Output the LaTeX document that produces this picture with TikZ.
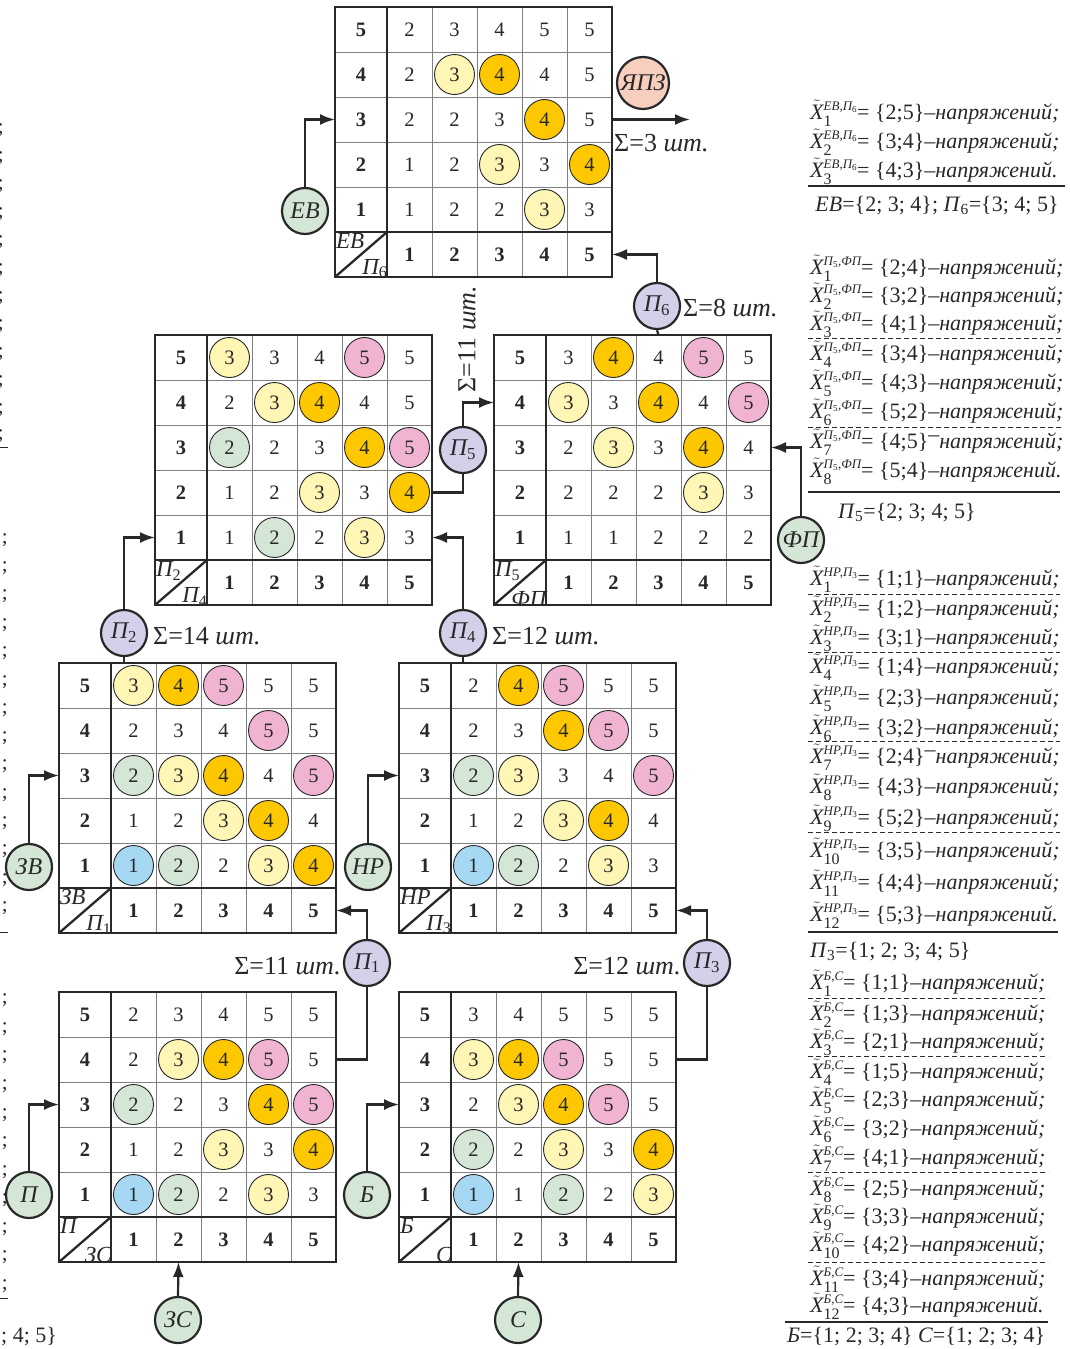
\documentclass[tikz,border=0pt]{standalone}
\usepackage{fontspec}
\setmainfont{Liberation Serif}
\usetikzlibrary{arrows.meta}
\definecolor{cy}{RGB}{254,246,180}
\definecolor{co}{RGB}{254,200,0}
\definecolor{cp}{RGB}{240,180,210}
\definecolor{cg}{RGB}{212,230,214}
\definecolor{cb}{RGB}{166,216,243}
\definecolor{cu}{RGB}{213,208,234}
\definecolor{cs}{RGB}{248,206,190}
\definecolor{ink}{RGB}{40,40,40}
\tikzset{
 gthin/.style={line width=0.8pt, draw=black!50},
 gthick/.style={line width=2.3pt, draw=ink},
 cellnum/.style={inner sep=0pt, text=ink, font=\fontsize{20.5}{20.5}\selectfont},
 headnum/.style={inner sep=0pt, text=ink, font=\fontsize{20.5}{20.5}\selectfont\bfseries},
 ccirc/.style={circle, draw=ink, line width=0.9pt, minimum size=40pt},
 ck-n/.style={},
 ck-y/.style={ccirc, fill=cy},
 ck-o/.style={ccirc, fill=co},
 ck-p/.style={ccirc, fill=cp},
 ck-g/.style={ccirc, fill=cg},
 ck-b/.style={ccirc, fill=cb},
 cornerlab/.style={inner sep=0.3pt, text=ink, font=\fontsize{23}{23}\selectfont\itshape},
 lab/.style={circle, draw=ink, line width=2.2pt, minimum size=46pt, inner sep=0pt, text=ink, font=\fontsize{24}{24}\selectfont\itshape},
 labg/.style={lab, fill=cg},
 labu/.style={lab, fill=cu},
 conn/.style={line width=2.2pt, draw=ink},
 arr/.style={conn, -{Latex[length=15pt,width=11pt]}},
 sig/.style={inner sep=0pt, text=ink, font=\fontsize{26}{26}\selectfont},
 eq/.style={inner sep=0pt, anchor=base west, text=ink, font=\fontsize{22}{22}\selectfont},
 dashrule/.style={line width=0.8pt, draw=ink, dash pattern=on 5pt off 3pt},
 solidrule/.style={line width=1.3pt, draw=ink},
 frag/.style={inner sep=0pt, text=ink, font=\fontsize{21}{21}\selectfont},
}
\newcommand\drawmat[6]{%
\begin{scope}[shift={(#2,#3)}]
 \foreach \r in {0,...,5}{
   \coordinate (#1-L\r) at (0,{45*(5-\r)+22.5});
   \coordinate (#1-R\r) at (277,{45*(5-\r)+22.5});
 }
 \foreach \c in {1,...,5}{
   \coordinate (#1-T\c) at ({29.5+45*\c},0);
   \coordinate (#1-B\c) at ({29.5+45*\c},270);
 }
 \fill[white] (0,0) rectangle (277,270);
 \foreach \k in {1,...,4} \draw[gthin] ({52+45*\k},0) -- ({52+45*\k},270);
 \foreach \k in {1,...,4} \draw[gthin] (0,{45*\k}) -- (277,{45*\k});
 \foreach \row [count=\i] in {#6} {
   \foreach \v/\k [count=\j] in \row {
     \node[cellnum, ck-\k] (#1-\i-\j) at ({29.5+45*\j},{45*\i-22.5}) {\v};
   }
 }
 \foreach \r [count=\i] in {5,4,3,2,1}
   \node[headnum] (#1-h\r) at (26,{45*\i-22.5}) {\r};
 \foreach \c in {1,...,5}
   \node[headnum] (#1-v\c) at ({29.5+45*\c},247.5) {\c};
 \draw[gthick] (0,225) -- (277,225);
 \draw[gthick] (52,0) -- (52,270);
 \draw[gthick] (0,270) -- (52,225);
 \draw[gthick] (0,0) rectangle (277,270);
 \node[cornerlab, anchor=north west] (#1-cu) at (0.5,226) {#4};
 \node[cornerlab, anchor=south east] (#1-cl) at (53,271.5) {#5};
\end{scope}}
\newcommand\sub[1]{\textsubscript{\upshape #1}}
\newlength\xtw
\newsavebox\xtsup
\newsavebox\xtsub
\newcommand\Xt[2]{%
 \sbox\xtsup{\fontsize{13}{13}\selectfont\itshape #2}%
 \sbox\xtsub{\fontsize{16}{16}\selectfont #1}%
 \setlength\xtw{\wd\xtsup}\ifdim\wd\xtsub>\xtw \setlength\xtw{\wd\xtsub}\fi
 $\tilde{\mbox{\itshape X}}$\rlap{\raisebox{8.5pt}{\usebox\xtsup}}\rlap{\raisebox{-7pt}{\usebox\xtsub}}\hspace{\xtw}}
\newcommand\nap{–\textit{напряжений;}}
\newcommand\napd{–\textit{напряжений.}}
\newcommand\napr{\raisebox{.6ex}{–}\textit{напряжений;}}
\newcommand\eqline[6]{\node[eq] (#1) at (810,#2) {\Xt{#3}{#4}= \{#5\}#6};}
\begin{document}
\begin{tikzpicture}[x=1pt,y=-1pt]
\useasboundingbox[fill=white] (0,0) rectangle (1070,1349);

% ---------------- matrices
\drawmat{M1}{335}{7}{ЕВ}{П\sub{6}}{%
{2/n,3/n,4/n,5/n,5/n},{2/n,3/y,4/o,4/n,5/n},{2/n,2/n,3/n,4/o,5/n},{1/n,2/n,3/y,3/n,4/o},{1/n,2/n,2/n,3/y,3/n}}
\drawmat{M2}{155}{335}{П\sub{2}}{П\sub{4}}{%
{3/y,3/n,4/n,5/p,5/n},{2/n,3/y,4/o,4/n,5/n},{2/g,2/n,3/n,4/o,5/p},{1/n,2/n,3/y,3/n,4/o},{1/n,2/g,2/n,3/y,3/n}}
\drawmat{M3}{494}{335}{П\sub{5}}{ФП}{%
{3/n,4/o,4/n,5/p,5/n},{3/y,3/n,4/o,4/n,5/p},{2/n,3/y,3/n,4/o,4/n},{2/n,2/n,2/n,3/y,3/n},{1/n,1/n,2/n,2/n,2/n}}
\drawmat{M4}{59}{663}{ЗВ}{П\sub{1}}{%
{3/y,4/o,5/p,5/n,5/n},{2/n,3/n,4/n,5/p,5/n},{2/g,3/y,4/o,4/n,5/p},{1/n,2/n,3/y,4/o,4/n},{1/b,2/g,2/n,3/y,4/o}}
\drawmat{M5}{399}{663}{НР}{П\sub{3}}{%
{2/n,4/o,5/p,5/n,5/n},{2/n,3/n,4/o,5/p,5/n},{2/g,3/y,3/n,4/n,5/p},{1/n,2/n,3/y,4/o,4/n},{1/b,2/g,2/n,3/y,3/n}}
\drawmat{M6}{59}{992}{П}{ЗС}{%
{2/n,3/n,4/n,5/n,5/n},{2/n,3/y,4/o,5/p,5/n},{2/g,2/n,3/n,4/o,5/p},{1/n,2/n,3/y,3/n,4/o},{1/b,2/g,2/n,3/y,3/n}}
\drawmat{M7}{399}{992}{Б}{С}{%
{3/n,4/n,5/n,5/n,5/n},{3/y,4/o,5/p,5/n,5/n},{2/n,3/y,4/o,5/p,5/n},{2/g,2/n,3/y,3/n,4/o},{1/b,1/n,2/g,2/n,3/y}}

% ---------------- label circles
\node[labg] (EB) at (305,211) {ЕВ};
\node[lab, fill=cs, minimum size=52pt] (YPZ) at (643,83) {ЯПЗ};
\node[labu] (P6) at (657,306) {П\sub{6}};
\node[labu] (P5) at (463,450) {П\sub{5}};
\node[labg] (FP) at (801,540) {ФП};
\node[labu] (P2) at (124,633) {П\sub{2}};
\node[labu] (P4) at (463,633) {П\sub{4}};
\node[labg] (ZV) at (29,867) {ЗВ};
\node[labg] (NR) at (368,867) {НР};
\node[labu] (P1) at (367,963) {П\sub{1}};
\node[labu] (P3) at (707,963) {П\sub{3}};
\node[labg] (P) at (29,1195) {П};
\node[labg] (B) at (367,1195) {Б};
\node[labg] (ZS) at (178,1320) {ЗС};
\node[labg] (S) at (518,1320) {С};
\coordinate (out) at (690,119.5);

% ---------------- connectors
\draw[arr] (EB.north) |- (M1-L3);
\draw[arr] (M1-R3) -- (out);
\draw[arr] (P6.north) |- (M1-R0);
\draw[conn] (M3-T3) -- (P6.south);
\draw[arr] (P5.north) |- (M3-L4);
\draw[conn] (M2-R2) -| (P5.south);
\draw[arr] (FP.north) |- (M3-R3);
\draw[arr] (P2.north) |- (M2-L1);
\draw[conn] (P2.south) -- (P2.south |- M4-T1);
\draw[arr] (P4.north) |- (M2-R1);
\draw[conn] (P4.south) -- (P4.south |- M5-T1);
\draw[arr] (ZV.north) |- (M4-L3);
\draw[arr] (NR.north) |- (M5-L3);
\draw[arr] (P1.north) |- (M4-R0);
\draw[conn] (M6-R4) -| (P1.south);
\draw[arr] (P3.north) |- (M5-R0);
\draw[conn] (M7-R4) -| (P3.south);
\draw[arr] (P.north) |- (M6-L3);
\draw[arr] (B.north) |- (M7-L3);
\draw[arr] (ZS.north) -- (M6-B2);
\draw[arr] (S.north) -- (M7-B2);

% ---------------- sums
\node[sig, anchor=west] (s3) at (614,143) {Σ=3 \textit{шт.}};
\node[sig, anchor=west] (s8) at (683,308) {Σ=8 \textit{шт.}};
\node[sig, rotate=90] (s11v) at (467,339) {Σ=11 \textit{шт.}};
\node[sig, anchor=west] (s14) at (153,636) {Σ=14 \textit{шт.}};
\node[sig, anchor=west] (s12a) at (492,636) {Σ=12 \textit{шт.}};
\node[sig, anchor=east] (s11) at (341,966) {Σ=11 \textit{шт.}};
\node[sig, anchor=east] (s12b) at (681,966) {Σ=12 \textit{шт.}};

% ---------------- right text: block 1
\eqline{a1}{119}{1}{ЕВ,П\sub{6}}{2;5}{\nap}
\eqline{a2}{148}{2}{ЕВ,П\sub{6}}{3;4}{\nap}
\eqline{a3}{177}{3}{ЕВ,П\sub{6}}{4;3}{\napd}
\draw[solidrule] (808,186) -- (1065,186);
\node[eq, anchor=base] (a4) at (937,211) {\textit{ЕВ}=\{2; 3; 4\}; \textit{П}\sub{6}=\{3; 4; 5\}};
% block 2
\eqline{b1}{274}{1}{П\sub{5},ФП}{2;4}{\nap}
\eqline{b2}{302}{2}{П\sub{5},ФП}{3;2}{\nap}
\eqline{b3}{330}{3}{П\sub{5},ФП}{4;1}{\nap}
\draw[dashrule] (808,338) -- (1062,338);
\eqline{b4}{360}{4}{П\sub{5},ФП}{3;4}{\nap}
\eqline{b5}{389}{5}{П\sub{5},ФП}{4;3}{\nap}
\eqline{b6}{418}{6}{П\sub{5},ФП}{5;2}{\nap}
\draw[dashrule] (808,427) -- (1062,427);
\eqline{b7}{448}{7}{П\sub{5},ФП}{4;5}{\napr}
\eqline{b8}{477}{8}{П\sub{5},ФП}{5;4}{\napd}
\draw[solidrule] (808,492) -- (1060,492);
\node[eq] (b9) at (838,518) {\textit{П}\sub{5}=\{2; 3; 4; 5\}};
% block 3
\eqline{c1}{585}{1}{НР,П\sub{3}}{1;1}{\nap}
\draw[dashrule] (808,594) -- (1060,594);
\eqline{c2}{615}{2}{НР,П\sub{3}}{1;2}{\nap}
\eqline{c3}{644}{3}{НР,П\sub{3}}{3;1}{\nap}
\draw[dashrule] (808,652) -- (1060,652);
\eqline{c4}{673}{4}{НР,П\sub{3}}{1;4}{\nap}
\eqline{c5}{704}{5}{НР,П\sub{3}}{2;3}{\nap}
\eqline{c6}{734}{6}{НР,П\sub{3}}{3;2}{\nap}
\draw[dashrule] (808,741) -- (1060,741);
\eqline{c7}{763}{7}{НР,П\sub{3}}{2;4}{\napr}
\eqline{c8}{793}{8}{НР,П\sub{3}}{4;3}{\nap}
\eqline{c9}{824}{9}{НР,П\sub{3}}{5;2}{\nap}
\draw[dashrule] (808,832) -- (1060,832);
\eqline{c10}{857}{10}{НР,П\sub{3}}{3;5}{\nap}
\eqline{c11}{889}{11}{НР,П\sub{3}}{4;4}{\nap}
\eqline{c12}{921}{12}{НР,П\sub{3}}{5;3}{\napd}
\draw[solidrule] (808,932) -- (1058,932);
\node[eq] (c13) at (810,957) {\textit{П}\sub{3}=\{1; 2; 3; 4; 5\}};
% block 4
\eqline{d1}{989}{1}{Б,С}{1;1}{\nap}
\draw[dashrule] (808,998) -- (1048,998);
\eqline{d2}{1020}{2}{Б,С}{1;3}{\nap}
\eqline{d3}{1048}{3}{Б,С}{2;1}{\nap}
\draw[dashrule] (808,1056) -- (1048,1056);
\eqline{d4}{1078}{4}{Б,С}{1;5}{\nap}
\eqline{d5}{1106}{5}{Б,С}{2;3}{\nap}
\eqline{d6}{1135}{6}{Б,С}{3;2}{\nap}
\eqline{d7}{1164}{7}{Б,С}{4;1}{\nap}
\draw[dashrule] (808,1172) -- (1048,1172);
\eqline{d8}{1195}{8}{Б,С}{2;5}{\nap}
\eqline{d9}{1223}{9}{Б,С}{3;3}{\nap}
\eqline{d10}{1251}{10}{Б,С}{4;2}{\nap}
\draw[dashrule] (808,1262) -- (1048,1262);
\eqline{d11}{1285}{11}{Б,С}{3;4}{\nap}
\eqline{d12}{1312}{12}{Б,С}{4;3}{\napd}
\draw[solidrule] (785,1322) -- (1048,1322);
\node[eq] (d13) at (787,1342) {\textit{Б}=\{1; 2; 3; 4\} \textit{С}=\{1; 2; 3; 4\}};

% ---------------- left edge fragments
\foreach \yy [count=\n] in {130,158,186,214,242,270,298,326,354,382,410,436}
  \node[frag, anchor=east] (fa\n) at (4,\yy) {;};
\foreach \yy [count=\n] in {540,568,596,625,653,682,710,738,766,795,823,851,880,908}
  \node[frag, anchor=east] (fb\n) at (8,\yy) {;};
\foreach \yy [count=\n] in {1000,1029,1057,1086,1115,1143,1172,1200,1229,1257,1286}
  \node[frag, anchor=east] (fc\n) at (8,\yy) {;};
\draw[line width=0.8pt, draw=ink] (0,447) -- (8,447);
\draw[line width=0.8pt, draw=ink] (0,932) -- (8,932);
\draw[line width=0.8pt, draw=ink] (0,1298) -- (8,1298);
\node[eq] (fd) at (1,1342) {; 4; 5\}};
\end{tikzpicture}
\end{document}
